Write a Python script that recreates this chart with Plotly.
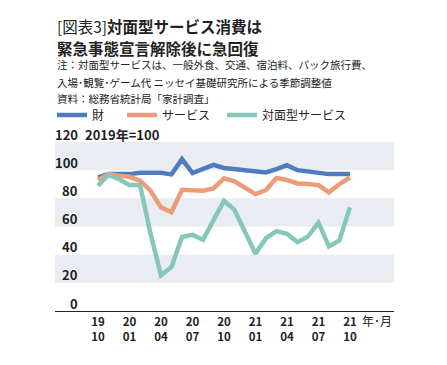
import plotly.graph_objects as go

months = ["2019-10", "2019-11", "2019-12", "2020-01", "2020-02", "2020-03", "2020-04",
          "2020-05", "2020-06", "2020-07", "2020-08", "2020-09", "2020-10", "2020-11",
          "2020-12", "2021-01", "2021-02", "2021-03", "2021-04", "2021-05", "2021-06",
          "2021-07", "2021-08", "2021-09", "2021-10"]

goods = [94.8, 97.2, 97.2, 97.2, 98.1, 98.1, 98.1, 97.0, 107.8, 97.9, 101.2, 103.8, 101.6,
         100.9, 100.4, 99.5, 98.4, 100.7, 103.5, 100.0, 99.1, 98.8, 97.2, 97.2, 97.2]
services = [93.0, 97.2, 96.0, 95.3, 92.5, 85.4, 73.6, 70.1, 86.1, 85.9, 85.4, 87.0, 94.2,
            92.0, 87.8, 83.0, 85.9, 94.4, 93.0, 90.6, 90.1, 89.4, 84.2, 90.1, 94.8]
face_to_face = [88.9, 96.7, 93.6, 89.4, 89.4, 55.0, 25.4, 31.3, 52.5, 54.1, 50.6, 64.2, 78.2,
                71.8, 56.0, 40.7, 51.7, 56.7, 54.8, 48.9, 52.9, 62.7, 45.9, 50.1, 73.6]

series_names = ["財", "サービス", "対面型サービス"]
series_colors = ["#4F7CBD", "#EC9C78", "#85C8B9"]

tick_months = ["2019-10", "2020-01", "2020-04", "2020-07", "2020-10",
               "2021-01", "2021-04", "2021-07", "2021-10"]
tick_text = ["19<br>10", "20<br>01", "20<br>04", "20<br>07", "20<br>10",
             "21<br>01", "21<br>04", "21<br>07", "21<br>10"]
y_ticks = [0, 20, 40, 60, 80, 100, 120]
bands = [(20, 40), (60, 80), (100, 120)]

title_lines = ["[図表3]<b>対面型サービス消費は</b>", "<b>緊急事態宣言解除後に急回復</b>"]
note_lines = ["注：対面型サービスは、一般外食、交通、宿泊料、パック旅行費、",
              "入場･観覧･ゲーム代 ニッセイ基礎研究所による季節調整値",
              "資料：総務省統計局「家計調査」"]

FONT = "Noto Sans CJK JP"
OFF = 8                      # default page body margin
W, H = 447 - OFF, 365 - OFF
L, T = 55 - OFF, 142 - OFF
R, B = W - (394 - OFF), H - (311 - OFF)
PW, PH = W - L - R, H - T - B
XRANGE = [-4.1, 28.2]

def py(pix):                 # screen pixel -> paper y
    return (H - B - (pix - OFF)) / PH

def px(pix):                 # screen pixel -> paper x
    return (pix - OFF - L) / PW

fig = go.Figure()
legend_ids = ["legend", "legend2", "legend3"]
for name, vals, col, lg in zip(series_names, [goods, services, face_to_face], series_colors, legend_ids):
    fig.add_trace(go.Scatter(x=months, y=vals, name=name, mode="lines", legend=lg,
                             line=dict(color=col, width=4.5)))

for y0, y1 in bands:
    fig.add_shape(type="rect", xref="paper", yref="y", x0=0, x1=1, y0=y0, y1=y1,
                  fillcolor="#E9ECF0", line_width=0, layer="below")

annotations = []
for v in y_ticks:
    annotations.append(dict(text=str(v), xref="paper", yref="y", x=px(80), y=v, yshift=8,
                            xanchor="right", yanchor="middle", showarrow=False,
                            font=dict(family=FONT, size=13, color="#222", weight=700)))
annotations.append(dict(text="2019年=100", xref="paper", yref="y", x=px(83), y=120, yshift=8,
                        xanchor="left", yanchor="middle",
                        showarrow=False, font=dict(family=FONT, size=13, color="#222", weight=700)))
annotations.append(dict(text="年･月", xref="paper", yref="paper", x=1, y=py(320),
                        xanchor="right", yanchor="middle", showarrow=False,
                        font=dict(family=FONT, size=12, color="#222")))
for txt, ypix in zip(note_lines, [65, 82, 98]):
    annotations.append(dict(text=txt, xref="paper", yref="paper", x=0, y=py(ypix),
                            xanchor="left", yanchor="middle", showarrow=False,
                            font=dict(family=FONT, size=10.5, color="#222")))
for txt, ypix in zip(title_lines, [26, 48.5]):
    annotations.append(dict(text=txt, xref="paper", yref="paper", x=0, y=py(ypix),
                            xanchor="left", yanchor="middle", showarrow=False,
                            font=dict(family=FONT, size=15.5, color="#222")))

def legend_at(xpix):
    return dict(orientation="h", xref="container", yref="container",
                x=(xpix - OFF) / W, y=1 - (115 - OFF) / H, xanchor="left", yanchor="middle",
                font=dict(family=FONT, size=12, color="#222"), itemwidth=30,
                bgcolor="rgba(0,0,0,0)")

fig.update_layout(
    width=W, height=H,
    margin=dict(l=L, r=R, t=T, b=B, autoexpand=False),
    paper_bgcolor="white", plot_bgcolor="white",
    showlegend=True,
    legend=legend_at(52), legend2=legend_at(122), legend3=legend_at(222),
    annotations=annotations,
    xaxis=dict(type="category", range=XRANGE, tickmode="array",
               tickvals=tick_months, ticktext=tick_text, showgrid=False,
               showline=True, linecolor="#222", linewidth=1, ticks="", automargin=False,
               tickfont=dict(family=FONT, size=11.5, color="#222", weight=700),
               zeroline=False, fixedrange=True),
    yaxis=dict(range=[0, 120], tickvals=y_ticks, showgrid=False, zeroline=False,
               showticklabels=False, showline=False, ticks="", automargin=False),
)

fig.write_html("out.html")
